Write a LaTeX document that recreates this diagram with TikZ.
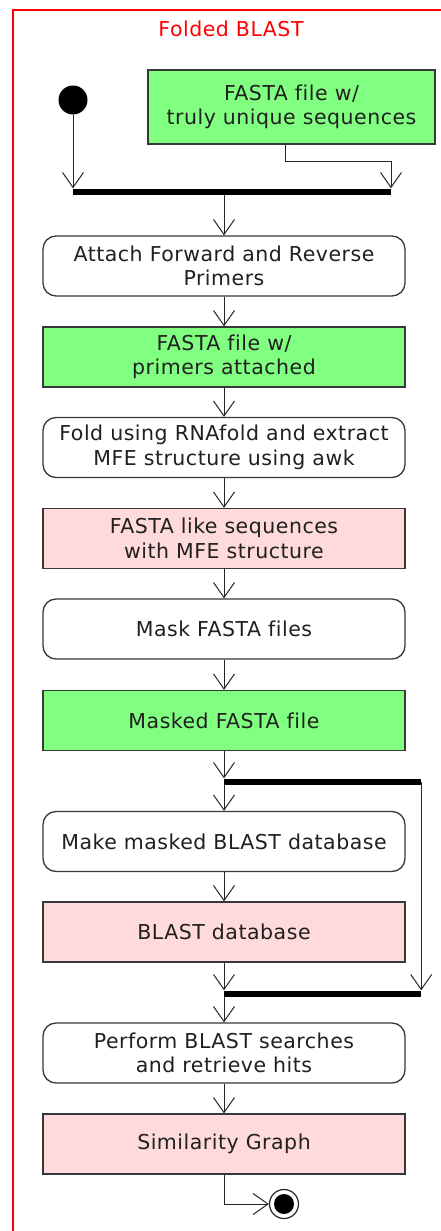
\documentclass[tikz,border=0pt]{standalone}
\usepackage{fontspec}
\setmainfont{DejaVu Sans}[LetterSpace=2.5,Ligatures={NoCommon}]
\usetikzlibrary{arrows.meta,positioning,calc}
\definecolor{artgreen}{HTML}{80FF80}
\definecolor{artpink}{HTML}{FFDADA}
\definecolor{edgegray}{HTML}{383838}
\definecolor{txt}{HTML}{202020}
\begin{document}
\begin{tikzpicture}[x=1pt,y=-1pt,
  font=\fontsize{20.5}{24.5}\selectfont,
  boxbase/.style={draw=edgegray, line width=1.3pt, minimum width=362pt,
    minimum height=60pt, inner sep=0pt, align=center, text=txt},
  action/.style={boxbase, rounded corners=13pt, fill=white},
  greenart/.style={boxbase, fill=artgreen},
  pinkart/.style={boxbase, fill=artpink},
  syncbar/.style={fill=black, inner sep=0pt, minimum height=6pt},
  flow/.style={draw=black!85, line width=1pt,
    -{Straight Barb[length=15pt,width=21pt,line width=1pt]}},
  startnode/.style={circle, fill=black, minimum size=29pt, inner sep=0pt},
  endnode/.style={circle, draw=black!85, fill=white, line width=1.2pt,
    minimum size=29pt, inner sep=0pt,
    path picture={\fill[black] (path picture bounding box.center) circle (10pt);}}]

\clip (0,0) rectangle (441,1231);
\fill[white] (0,0) rectangle (441,1231);

% swimlane frame and title
\draw[red, line width=1.4pt] (13,1300) -- (13,10) -- (500,10);
\node[text=red] (title) at (231,29) {Folded BLAST};

% initial state and input artefact
\node[startnode] (start) at (73,100) {};
\node[greenart, minimum width=287pt, minimum height=74pt] (uniq) at (291.5,107)
  {FASTA file w/\\truly unique sequences};
\node[syncbar, minimum width=318pt] (topbar) at (232,191.5) {};

% main pipeline
\node[action]   (attach)  at (224,266)    {Attach Forward and Reverse\\Primers};
\node[greenart] (primed)  at (224,357)    {FASTA file w/\\primers attached};
\node[action]   (fold)    at (224,447.5)  {Fold using RNAfold and extract\\MFE structure using awk};
\node[pinkart]  (mfe)     at (224,538.5)  {FASTA like sequences\\with MFE structure};
\node[action]   (mask)    at (224,629)    {Mask FASTA files};
\node[greenart] (masked)  at (224,720.5)  {Masked FASTA file};
\node[syncbar, minimum width=197pt] (fork) at (322.5,781.5) {};
\node[action]   (makedb)  at (224,841.5)  {Make masked BLAST database};
\node[pinkart]  (blastdb) at (224,932)    {BLAST database};
\node[syncbar, minimum width=197pt] (join) at (322.5,993.5) {};
\node[action]   (search)  at (224,1053)   {Perform BLAST searches\\and retrieve hits};
\node[pinkart]  (simg)    at (224,1144)   {Similarity Graph};
\node[endnode]  (stop)    at (284,1204)   {};

% routing points
\coordinate (bendA) at (285,161);
\coordinate (bendB) at (391,161);

% connectors
\draw[flow] (start.south) -- (start |- topbar.north);
\draw[flow] (uniq.south -| bendA) -- (bendA) -- (bendB) -- (bendB |- topbar.north);
\draw[flow] (topbar.south -| attach.north) -- (attach.north);
\draw[flow] (attach) -- (primed);
\draw[flow] (primed) -- (fold);
\draw[flow] (fold) -- (mfe);
\draw[flow] (mfe) -- (mask);
\draw[flow] (mask) -- (masked);
\draw[flow] (masked.south) -- (masked.south |- fork.north);
\draw[flow] (fork.south -| makedb.north) -- (makedb.north);
\draw[flow] (makedb) -- (blastdb);
\draw[flow] (fork.east) -- (fork.east |- join.north);
\draw[flow] (blastdb.south) -- (blastdb.south |- join.north);
\draw[flow] (join.south -| search.north) -- (search.north);
\draw[flow] (search) -- (simg);
\draw[flow] (simg.south) -- (simg.south |- stop) -- (stop.west);
\end{tikzpicture}
\end{document}
